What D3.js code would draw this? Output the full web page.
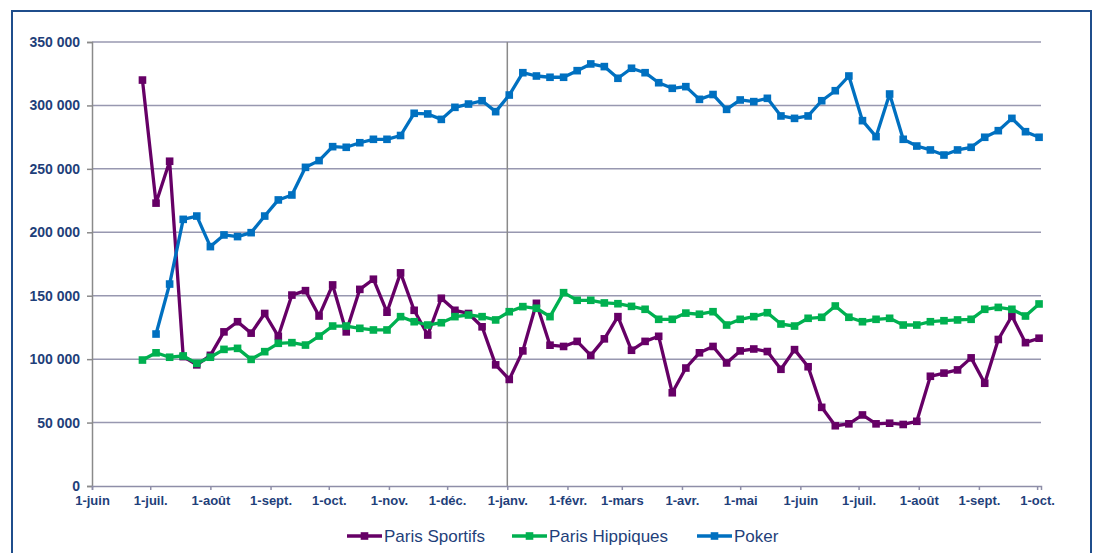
<!DOCTYPE html>
<html lang="fr">
<head>
    <meta charset="UTF-8">
    <title>Mises hebdomadaires</title>
    <script src="https://d3js.org/d3.v7.min.js"></script>
    <style>
        body { margin: 0; background: #fff; }
        svg { display: block; font-family: "Liberation Sans", Arial, sans-serif; }
    </style>
</head>
<body>
<div id="chart"></div>
<script>
    // weekly points, Sunday 27 June 2010 -> Sunday 2 October 2011
    const weeks = d3.timeWeek.range(new Date(2010, 5, 27), new Date(2011, 9, 3));

    const sportifs = [320000, 223000, 256000, 102000, 95500, 103000, 121500, 129500, 120500, 136000,
        118000, 150500, 154000, 134000, 158500, 121500, 155000, 163000, 137000, 168000,
        138500, 119000, 148000, 138500, 136000, 125500, 95500, 84000, 106500, 144000,
        111000, 110000, 114000, 103000, 116000, 133500, 107000, 114000, 118000, 73500,
        93000, 105000, 110000, 97000, 106500, 108000, 106000, 92000, 107500, 94000,
        62000, 47500, 49000, 56000, 49000, 49500, 48500, 51000, 86500, 89000,
        91500, 101000, 81000, 115500, 134000, 113000, 116500];

    const hippiques = [99300, 105000, 101500, 102500, 96700, 101500, 107700, 108500, 99800, 105900,
        112500, 113000, 111100, 118200, 126100, 126100, 124300, 123000, 123000, 133500,
        129500, 126900, 128700, 133500, 134800, 133500, 130900, 137400, 141400, 140100,
        133500, 152400, 146400, 146400, 144300, 143700, 141600, 139300, 131400, 131400,
        136300, 135400, 137400, 126900, 131400, 133500, 136600, 127700, 126100, 132200,
        133000, 141900, 133000, 129500, 131400, 132200, 126900, 126900, 129500, 130300,
        130900, 131400, 139300, 140800, 139300, 134000, 143500];

    const poker = [null, 119800, 159200, 210200, 212800, 188700, 197900, 196600, 199700, 212800,
        225500, 229400, 251200, 256500, 267500, 267000, 270600, 273300, 273300, 276300,
        293800, 293300, 289000, 298500, 301100, 303700, 295100, 308200, 325800, 323200,
        322200, 322200, 327400, 332700, 330600, 321400, 329300, 325800, 317900, 313500,
        314800, 304800, 308600, 296900, 304300, 303000, 305600, 291700, 289800, 291700,
        303700, 311600, 323200, 288000, 275400, 309000, 273300, 268000, 264900, 260900,
        264900, 267000, 274900, 280100, 289800, 279300, 274900];

    const seriesNames = ["Paris Sportifs", "Paris Hippiques", "Poker"];
    const seriesColors = ["#660066", "#00b050", "#0070c0"];
    const yTicks = [0, 50000, 100000, 150000, 200000, 250000, 300000, 350000];
    const monthLabels = ["1-juin", "1-juil.", "1-août", "1-sept.", "1-oct.", "1-nov.", "1-déc.", "1-janv.",
        "1-févr.", "1-mars", "1-avr.", "1-mai", "1-juin", "1-juil.", "1-août", "1-sept.", "1-oct."];

    const W = 1094, H = 553;
    const plotLeft = 92, plotRight = 1041, plotTop = 42, plotBottom = 486;
    const textColor = "#1f3f7a";

    const svg = d3.select("#chart").append("svg")
        .attr("width", W)
        .attr("height", H);

    // outer frame
    svg.append("rect")
        .attr("x", 12).attr("y", 11)
        .attr("width", 1079).attr("height", 600)
        .attr("fill", "none")
        .attr("stroke", "#1f4e8c")
        .attr("stroke-width", 2);

    const x = d3.scaleTime()
        .domain([new Date(2010, 5, 1), new Date(2011, 9, 3)])
        .range([plotLeft, plotRight]);

    const y = d3.scaleLinear()
        .domain([0, 350000])
        .range([plotBottom, plotTop]);

    // horizontal gridlines
    svg.append("g")
        .selectAll("line")
        .data(yTicks.slice(1))
        .join("line")
        .attr("x1", plotLeft).attr("x2", plotRight)
        .attr("y1", d => y(d)).attr("y2", d => y(d))
        .attr("stroke", "#9898b0")
        .attr("stroke-width", 1.5);

    // year separator
    const jan = new Date(2011, 0, 1);
    svg.append("line")
        .attr("x1", x(jan)).attr("x2", x(jan))
        .attr("y1", plotTop).attr("y2", plotBottom)
        .attr("stroke", "#8a8a8a")
        .attr("stroke-width", 1.5);

    // y axis
    const fmt = d => d3.format(",")(d).replace(/,/g, " ");
    const yAxis = svg.append("g")
        .attr("transform", `translate(${plotLeft},0)`)
        .call(d3.axisLeft(y).tickValues(yTicks).tickFormat(fmt).tickSize(5).tickPadding(7));
    yAxis.select(".domain").attr("stroke", "#8a8a8a").attr("stroke-width", 1.5);
    yAxis.selectAll(".tick line").attr("stroke", "#8a8a8a").attr("stroke-width", 1.5);
    yAxis.selectAll("text")
        .attr("fill", textColor)
        .style("font-size", "14px")
        .style("font-weight", "bold");

    // x axis
    const months = d3.timeMonth.range(new Date(2010, 5, 1), new Date(2011, 9, 2));
    const xAxis = svg.append("g")
        .attr("transform", `translate(0,${plotBottom})`)
        .call(d3.axisBottom(x).tickValues(months).tickFormat((d, i) => monthLabels[i])
            .tickSizeOuter(0).tickSize(4).tickPadding(6));
    xAxis.select(".domain").attr("stroke", "#8e8ea8").attr("stroke-width", 1.5);
    xAxis.selectAll(".tick line").attr("stroke", "#8e8ea8").attr("stroke-width", 1.5);
    xAxis.selectAll("text")
        .attr("fill", textColor)
        .style("font-size", "13px")
        .style("font-weight", "bold");

    // series
    const allSeries = [sportifs, hippiques, poker];
    const line = d3.line()
        .defined(d => d.v != null)
        .x(d => x(d.date))
        .y(d => y(d.v));

    allSeries.forEach((vals, k) => {
        const pts = vals.map((v, i) => ({ date: weeks[i], v: v }));
        svg.append("path")
            .datum(pts)
            .attr("fill", "none")
            .attr("stroke", seriesColors[k])
            .attr("stroke-width", 3.3)
            .attr("stroke-linejoin", "round")
            .attr("d", line);
        svg.append("g")
            .selectAll("rect")
            .data(pts.filter(d => d.v != null))
            .join("rect")
            .attr("x", d => x(d.date) - 3.8)
            .attr("y", d => y(d.v) - 3.8)
            .attr("width", 7.6).attr("height", 7.6)
            .attr("fill", seriesColors[k]);
    });

    // legend
    const legendX = [347, 512, 697];
    const legendY = 536;
    const legend = svg.append("g");
    seriesNames.forEach((name, k) => {
        const g = legend.append("g").attr("transform", `translate(${legendX[k]},${legendY})`);
        g.append("line")
            .attr("x1", 0).attr("x2", 35)
            .attr("stroke", seriesColors[k])
            .attr("stroke-width", 3.3);
        g.append("rect")
            .attr("x", 13.7).attr("y", -3.8)
            .attr("width", 7.6).attr("height", 7.6)
            .attr("fill", seriesColors[k]);
        g.append("text")
            .attr("x", 37)
            .attr("dy", "0.35em")
            .attr("fill", textColor)
            .style("font-size", "17px")
            .text(name);
    });
</script>
</body>
</html>
